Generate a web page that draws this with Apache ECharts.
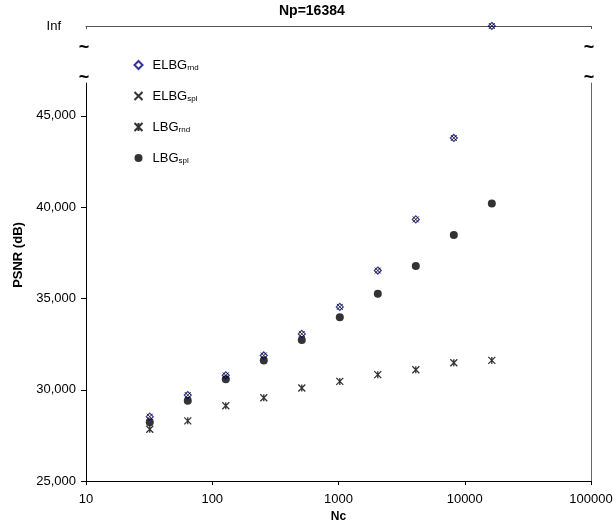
<!DOCTYPE html>
<html>
<head>
<meta charset="utf-8">
<script src="https://cdn.jsdelivr.net/npm/echarts@6/dist/echarts.min.js"></script>
<style>
  html, body { margin: 0; padding: 0; background: #fff; }
  #chart { width: 616px; height: 528px; }
</style>
</head>
<body>
<div id="chart"></div>
<script>
// Nc values (x axis, log scale)
const nc = [32, 64, 128, 256, 512, 1024, 2048, 4096, 8192, 16384];
// PSNR values; 'Inf' goes to the top row
const elbgRnd = [28530, 29710, 30790, 31880, 33060, 34540, 36530, 39330, 43790, 'Inf'];
const elbgSpl = [28530, 29710, 30790, 31880, 33060, 34540, 36530, 39330, 43790, 'Inf'];
const lbgRnd = [27840, 28300, 29130, 29560, 30100, 30460, 30830, 31100, 31480, 31610];
const lbgSpl = [28220, 29400, 30580, 31610, 32730, 33970, 35260, 36780, 38480, 40200];
const yTicks = [25000, 30000, 35000, 40000, 45000];

const FONT = 'Liberation Sans, Arial, sans-serif';

function finite(vals) {
  return nc.map((x, i) => [x, vals[i]]).filter(p => p[1] !== 'Inf');
}
function infinite(vals) {
  return nc.map((x, i) => [x, vals[i]]).filter(p => p[1] === 'Inf').map(p => [p[0], 0]);
}

const diamondPath = 'path://M5,0L10,5L5,10L0,5Z';
const crossPath = 'path://M0,0L10,10M10,0L0,10';
const starPath = 'path://M0,0L10,10M10,0L0,10M5,0L5,10';

const styles = {
  'ELBG_rnd': { symbol: diamondPath, symbolSize: 7, itemStyle: { color: 'none', borderColor: '#000080', borderWidth: 1.2 } },
  'ELBG_spl': { symbol: crossPath, symbolSize: 6, itemStyle: { color: 'none', borderColor: '#000', borderWidth: 1 } },
  'LBG_rnd': { symbol: starPath, symbolSize: 7, itemStyle: { color: 'none', borderColor: '#000', borderWidth: 1.3 } },
  'LBG_spl': { symbol: 'circle', symbolSize: 8, itemStyle: { color: '#000' } }
};

function series(name, vals, z) {
  const s = styles[name];
  const out = [{
    name: name, type: 'scatter', xAxisIndex: 0, yAxisIndex: 0, z: z,
    symbol: s.symbol, symbolSize: s.symbolSize, itemStyle: s.itemStyle,
    data: finite(vals)
  }];
  const inf = infinite(vals);
  if (inf.length) {
    out.push({
      name: name, type: 'scatter', xAxisIndex: 1, yAxisIndex: 2, z: z,
      symbol: s.symbol, symbolSize: s.symbolSize, itemStyle: s.itemStyle,
      data: inf
    });
  }
  return out;
}

const chart = echarts.init(document.getElementById('chart'));

const tilde = (x, y) => ({
  type: 'text', x: x, y: y,
  style: { text: '~', font: 'bold 18px ' + FONT, fill: '#000', textAlign: 'center', textVerticalAlign: 'middle' }
});

const option = {
  animation: false,
  textStyle: { fontFamily: FONT },
  title: {
    text: 'Np=16384',
    left: 279, top: 4, padding: 0,
    textStyle: { fontSize: 14, fontWeight: 'bold', color: '#000', fontFamily: FONT }
  },
  legend: {
    orient: 'vertical',
    left: 127, top: 53,
    itemWidth: 8, itemHeight: 8, itemGap: 17,
    data: ['ELBG_rnd', 'ELBG_spl', 'LBG_rnd', 'LBG_spl'],
    formatter: function (name) {
      const parts = name.split('_');
      return '{a|' + parts[0] + '}{b|' + parts[1] + '}';
    },
    textStyle: {
      color: '#000',
      rich: {
        a: { fontSize: 13, lineHeight: 14, padding: [0, 0, 0, 5], fontFamily: FONT, color: '#000' },
        b: { fontSize: 8, lineHeight: 8, padding: [6, 0, 0, 0], fontFamily: FONT, color: '#000' }
      }
    }
  },
  grid: [
    { left: 86, right: 25, top: 83, bottom: 43 },
    { left: 86, right: 25, top: 15, height: 11 }
  ],
  xAxis: [
    {
      gridIndex: 0, type: 'log', logBase: 10, min: 10, max: 100000,
      name: 'Nc', nameLocation: 'middle', nameGap: 28,
      nameTextStyle: { fontSize: 12, fontWeight: 'bold', color: '#000', fontFamily: FONT },
      axisLine: { lineStyle: { color: '#000', width: 1 } },
      axisTick: { show: true, length: 4, lineStyle: { color: '#000' } },
      minorTick: { show: false },
      splitLine: { show: false },
      axisLabel: {
        margin: 12, fontSize: 13, color: '#000', fontFamily: FONT,
        formatter: function (v) { return String(Math.round(v)); }
      }
    },
    {
      gridIndex: 1, type: 'log', logBase: 10, min: 10, max: 100000,
      axisLine: { lineStyle: { color: '#555', width: 1 } },
      axisTick: { show: true, length: 3, customValues: [10, 100000], lineStyle: { color: '#555' } },
      splitLine: { show: false },
      axisLabel: { show: false }
    }
  ],
  yAxis: [
    {
      gridIndex: 0, type: 'value', min: 25000, max: 46800, interval: 5000,
      axisLine: { show: true, lineStyle: { color: '#000', width: 1 } },
      axisTick: { show: true, length: 5, customValues: yTicks, lineStyle: { color: '#000' } },
      splitLine: { show: false },
      axisLabel: {
        margin: 10, fontSize: 13, color: '#000', fontFamily: FONT,
        customValues: yTicks,
        formatter: function (v) { return v.toLocaleString('en-US'); }
      }
    },
    {
      gridIndex: 0, type: 'value', position: 'right', min: 25000, max: 46800,
      axisLine: { show: true, lineStyle: { color: '#666', width: 1 } },
      axisTick: { show: false },
      splitLine: { show: false },
      axisLabel: { show: false }
    },
    {
      gridIndex: 1, type: 'value', min: 0, max: 1,
      axisLine: { show: false },
      axisTick: { show: false },
      splitLine: { show: false },
      axisLabel: {
        margin: 25, fontSize: 13, color: '#000', fontFamily: FONT,
        customValues: [0],
        formatter: function () { return 'Inf'; }
      }
    }
  ],
  graphic: [
    {
      type: 'text', x: 18, y: 255, rotation: Math.PI / 2,
      style: { text: 'PSNR (dB)', font: 'bold 13px ' + FONT, fill: '#000', textAlign: 'center', textVerticalAlign: 'middle' }
    },
    tilde(84, 48), tilde(84, 78), tilde(589, 48), tilde(589, 78)
  ],
  series: [].concat(
    series('LBG_spl', lbgSpl, 2),
    series('LBG_rnd', lbgRnd, 3),
    series('ELBG_rnd', elbgRnd, 4),
    series('ELBG_spl', elbgSpl, 5)
  )
};

chart.setOption(option);
</script>
</body>
</html>
